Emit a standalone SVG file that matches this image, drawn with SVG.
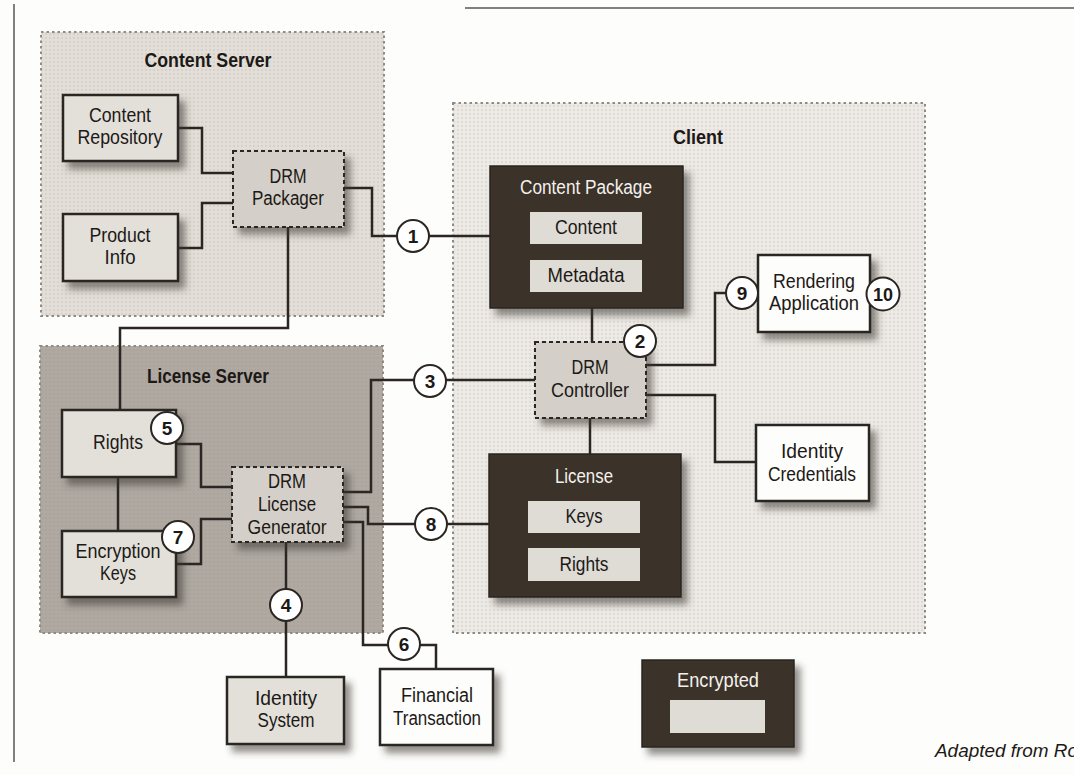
<svg xmlns="http://www.w3.org/2000/svg" width="1074" height="775" viewBox="0 0 1074 775">
  <style>
    text { font-family: "Liberation Sans", Arial, sans-serif; fill: #1c1916; }
    .t { font-size: 20px; text-anchor: middle; }
    .title { font-size: 20px; font-weight: bold; text-anchor: middle; }
    .inv { fill: #f4f1ec; }
    .num { font-size: 19px; font-weight: bold; text-anchor: middle; }
    .note { font-size: 18px; font-style: italic; }
    .region { stroke: #8f8a83; stroke-width: 2; stroke-dasharray: 2.5 3; }
    .box { stroke: #2b2622; stroke-width: 2.5; filter: url(#shadow); }
    .light { fill: #e3e0da; }
    .white { fill: #fdfdfc; }
    .dash { fill: #d4cfc8; stroke: #2b2622; stroke-width: 2; stroke-dasharray: 4 3; filter: url(#shadow); }
    .dark { fill: #3a3029; stroke: #2b2622; stroke-width: 1.5; filter: url(#shadow); }
    .inner { fill: #dfdbd5; }
    .wire { fill: none; stroke: #2b2622; stroke-width: 2.5; }
    .step { fill: #ffffff; stroke: #2b2622; stroke-width: 2; }
    .edge { fill: none; stroke: #5a5550; stroke-width: 1.5; }
  </style>
  <defs>
    <filter id="shadow" x="-20%" y="-20%" width="150%" height="160%">
      <feDropShadow dx="6" dy="7" stdDeviation="3.8" flood-color="#3a3530" flood-opacity="0.55"/>
    </filter>
    <pattern id="screen" width="4" height="4" patternUnits="userSpaceOnUse">
      <circle cx="2" cy="2" r="0.9" fill="#8a857e" fill-opacity="0.22"/>
    </pattern>
  </defs>

  <!-- paper -->
  <rect x="0" y="0" width="1074" height="775" fill="#fdfdfb"/>
  <g id="page-edges">
    <line class="edge" x1="14" y1="4" x2="14" y2="762"/>
    <line class="edge" x1="465" y1="8" x2="1074" y2="8"/>
  </g>

  <!-- zones -->
  <g id="content-server">
    <rect class="region" x="41" y="32" width="343" height="284" fill="#e3dfd8"/>
    <rect x="42" y="33" width="341" height="282" fill="url(#screen)"/>
    <text class="title" x="208" y="67" textLength="127" lengthAdjust="spacingAndGlyphs">Content Server</text>
  </g>
  <g id="license-server">
    <rect class="region" x="40" y="346" width="343" height="287" fill="#afa9a2" stroke="#9a948d"/>
    <rect x="41" y="347" width="341" height="285" fill="url(#screen)"/>
    <text class="title" x="208" y="383" textLength="122" lengthAdjust="spacingAndGlyphs">License Server</text>
  </g>
  <g id="client">
    <rect class="region" x="453" y="103" width="472" height="530" fill="#edeae5"/>
    <rect x="454" y="104" width="470" height="528" fill="url(#screen)"/>
    <text class="title" x="698" y="144" textLength="50" lengthAdjust="spacingAndGlyphs">Client</text>
  </g>

  <!-- links between components -->
  <g id="connectors">
    <path class="wire" d="M178 128 H202 V173 H233"/>
    <path class="wire" d="M178 248 H202 V203 H233"/>
    <path class="wire" d="M344 188 H372 V236 H490"/>
    <path class="wire" d="M288 227 V328 H120 V410"/>
    <path class="wire" d="M592 308 V342"/>
    <path class="wire" d="M343 492 H371 V380 H535"/>
    <path class="wire" d="M343 507 H368 V524 H489"/>
    <path class="wire" d="M343 522 H363 V645 H436 V669"/>
    <path class="wire" d="M286 542 V677"/>
    <path class="wire" d="M176 444 H201 V487 H232"/>
    <path class="wire" d="M176 564 H201 V519 H232"/>
    <path class="wire" d="M118 477 V531"/>
    <path class="wire" d="M646 365 H715 V293 H758"/>
    <path class="wire" d="M646 395 H715 V462 H756"/>
    <path class="wire" d="M590 418 V454"/>
  </g>

  <!-- content server components -->
  <g id="content-repository">
    <rect class="box light" x="63" y="95" width="115" height="66"/>
    <text class="t" x="120" y="122" textLength="62" lengthAdjust="spacingAndGlyphs">Content</text>
    <text class="t" x="120" y="144" textLength="85" lengthAdjust="spacingAndGlyphs">Repository</text>
  </g>
  <g id="product-info">
    <rect class="box light" x="63" y="214" width="115" height="67"/>
    <text class="t" x="120" y="242" textLength="61" lengthAdjust="spacingAndGlyphs">Product</text>
    <text class="t" x="120" y="264" textLength="31" lengthAdjust="spacingAndGlyphs">Info</text>
  </g>
  <g id="drm-packager">
    <rect class="dash" x="233" y="151" width="111" height="76"/>
    <text class="t" x="288" y="183" textLength="37" lengthAdjust="spacingAndGlyphs">DRM</text>
    <text class="t" x="288" y="205" textLength="72" lengthAdjust="spacingAndGlyphs">Packager</text>
  </g>

  <!-- license server components -->
  <g id="rights">
    <rect class="box light" x="62" y="410" width="114" height="67"/>
    <text class="t" x="118" y="449" textLength="50" lengthAdjust="spacingAndGlyphs">Rights</text>
  </g>
  <g id="encryption-keys">
    <rect class="box light" x="62" y="531" width="114" height="66"/>
    <text class="t" x="118" y="558" textLength="85" lengthAdjust="spacingAndGlyphs">Encryption</text>
    <text class="t" x="118" y="580" textLength="36" lengthAdjust="spacingAndGlyphs">Keys</text>
  </g>
  <g id="drm-license-generator">
    <rect class="dash" x="232" y="467" width="111" height="75" fill="#c9c4bd"/>
    <text class="t" x="287" y="488" textLength="38" lengthAdjust="spacingAndGlyphs">DRM</text>
    <text class="t" x="287" y="511" textLength="58" lengthAdjust="spacingAndGlyphs">License</text>
    <text class="t" x="287" y="534" textLength="79" lengthAdjust="spacingAndGlyphs">Generator</text>
  </g>

  <!-- external systems -->
  <g id="identity-system">
    <rect class="box light" x="227" y="677" width="117" height="67"/>
    <text class="t" x="286" y="705" textLength="62" lengthAdjust="spacingAndGlyphs">Identity</text>
    <text class="t" x="286" y="727" textLength="57" lengthAdjust="spacingAndGlyphs">System</text>
  </g>
  <g id="financial-transaction">
    <rect class="box white" x="380" y="669" width="113" height="76"/>
    <text class="t" x="437" y="702" textLength="72" lengthAdjust="spacingAndGlyphs">Financial</text>
    <text class="t" x="437" y="725" textLength="88" lengthAdjust="spacingAndGlyphs">Transaction</text>
  </g>

  <!-- client components -->
  <g id="content-package">
    <rect class="dark" x="490" y="166" width="193" height="142"/>
    <text class="t inv" x="586" y="194" textLength="132" lengthAdjust="spacingAndGlyphs">Content Package</text>
    <rect class="inner" x="530" y="212" width="112" height="32"/>
    <text class="t" x="586" y="234" textLength="62" lengthAdjust="spacingAndGlyphs">Content</text>
    <rect class="inner" x="530" y="260" width="112" height="32"/>
    <text class="t" x="586" y="282" textLength="77" lengthAdjust="spacingAndGlyphs">Metadata</text>
  </g>
  <g id="drm-controller">
    <rect class="dash" x="535" y="342" width="111" height="76"/>
    <text class="t" x="590" y="374" textLength="37" lengthAdjust="spacingAndGlyphs">DRM</text>
    <text class="t" x="590" y="397" textLength="78" lengthAdjust="spacingAndGlyphs">Controller</text>
  </g>
  <g id="license">
    <rect class="dark" x="489" y="454" width="192" height="143"/>
    <text class="t inv" x="584" y="483" textLength="58" lengthAdjust="spacingAndGlyphs">License</text>
    <rect class="inner" x="528" y="501" width="112" height="32"/>
    <text class="t" x="584" y="523" textLength="37" lengthAdjust="spacingAndGlyphs">Keys</text>
    <rect class="inner" x="528" y="548" width="112" height="33"/>
    <text class="t" x="584" y="571" textLength="49" lengthAdjust="spacingAndGlyphs">Rights</text>
  </g>
  <g id="rendering-application">
    <rect class="box white" x="758" y="255" width="112" height="77"/>
    <text class="t" x="814" y="288" textLength="82" lengthAdjust="spacingAndGlyphs">Rendering</text>
    <text class="t" x="814" y="310" textLength="90" lengthAdjust="spacingAndGlyphs">Application</text>
  </g>
  <g id="identity-credentials">
    <rect class="box white" x="756" y="425" width="113" height="76"/>
    <text class="t" x="812" y="458" textLength="62" lengthAdjust="spacingAndGlyphs">Identity</text>
    <text class="t" x="812" y="481" textLength="88" lengthAdjust="spacingAndGlyphs">Credentials</text>
  </g>

  <!-- legend -->
  <g id="legend-encrypted">
    <rect class="dark" x="642" y="660" width="152" height="87"/>
    <text class="t inv" x="718" y="687" textLength="82" lengthAdjust="spacingAndGlyphs">Encrypted</text>
    <rect class="inner" x="670" y="700" width="95" height="33"/>
  </g>

  <!-- numbered steps -->
  <g id="steps">
    <g id="step-1"><circle class="step" cx="413" cy="236" r="16"/><text class="num" x="413" y="243">1</text></g>
    <g id="step-2"><circle class="step" cx="640" cy="341" r="16"/><text class="num" x="640" y="348">2</text></g>
    <g id="step-3"><circle class="step" cx="430" cy="381" r="16"/><text class="num" x="430" y="388">3</text></g>
    <g id="step-4"><circle class="step" cx="286" cy="605" r="16"/><text class="num" x="286" y="612">4</text></g>
    <g id="step-5"><circle class="step" cx="167" cy="428" r="16"/><text class="num" x="167" y="435">5</text></g>
    <g id="step-6"><circle class="step" cx="404" cy="644" r="16"/><text class="num" x="404" y="651">6</text></g>
    <g id="step-7"><circle class="step" cx="178" cy="537" r="16"/><text class="num" x="178" y="544">7</text></g>
    <g id="step-8"><circle class="step" cx="431" cy="524" r="16"/><text class="num" x="431" y="531">8</text></g>
    <g id="step-9"><circle class="step" cx="742" cy="293" r="16"/><text class="num" x="742" y="300">9</text></g>
    <g id="step-10"><circle class="step" cx="883" cy="294" r="16.5"/><text class="num" x="883" y="301" textLength="20" lengthAdjust="spacingAndGlyphs">10</text></g>
  </g>

  <text class="note" x="935" y="757" textLength="143" lengthAdjust="spacingAndGlyphs">Adapted from Ro</text>
</svg>
